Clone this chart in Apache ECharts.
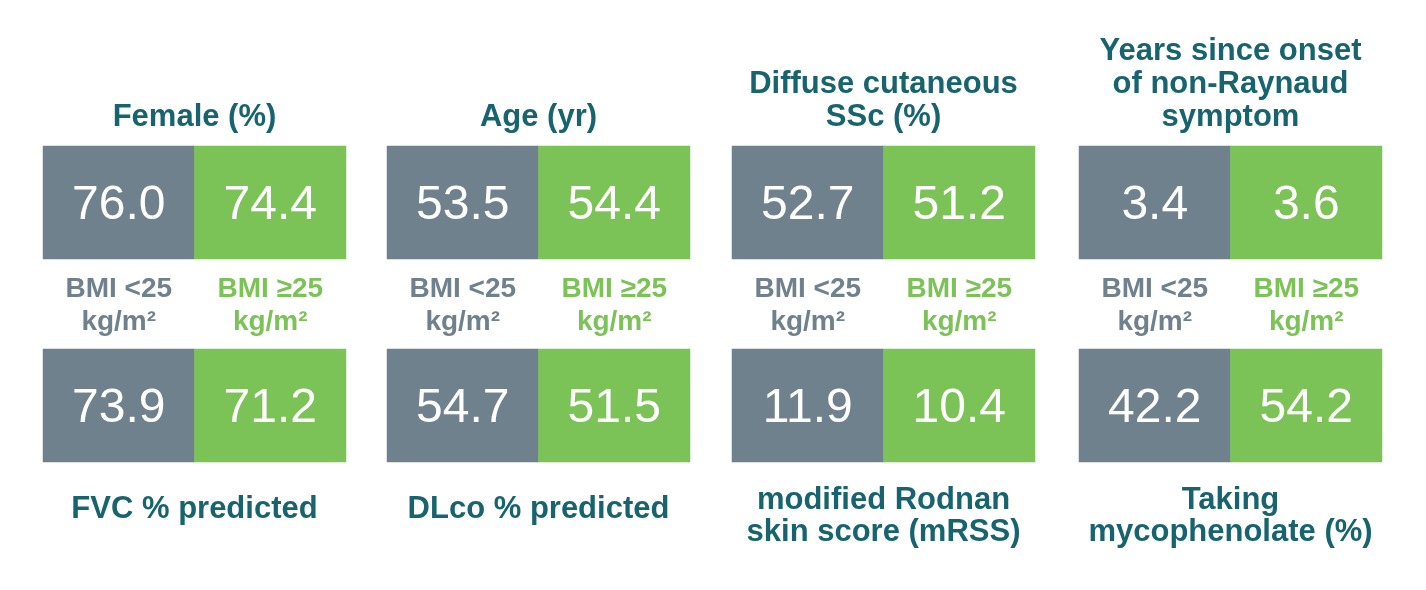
<!DOCTYPE html>
<html>
<head>
<meta charset="utf-8">
<script src="https://cdn.jsdelivr.net/npm/echarts@6/dist/echarts.min.js"></script>
<style>
  html, body { margin: 0; padding: 0; background: #fff; }
  #main { width: 1426px; height: 590px; }
</style>
</head>
<body>
<div id="main"></div>
<script>
// groups (columns inside each panel)
const groups = ['BMI <25\nkg/m²', 'BMI ≥25\nkg/m²']
// panel titles, top row and bottom row
const topTitles = ['Female (%)', 'Age (yr)', 'Diffuse cutaneous\nSSc (%)', 'Years since onset\nof non-Raynaud\nsymptom']
const bottomTitles = ['FVC % predicted', 'DLco % predicted', 'modified Rodnan\nskin score (mRSS)', 'Taking\nmycophenolate (%)']
// values: [BMI <25, BMI >=25]
const topValues = [[76.0, 74.4], [53.5, 54.4], [52.7, 51.2], [3.4, 3.6]]
const bottomValues = [[73.9, 71.2], [54.7, 51.5], [11.9, 10.4], [42.2, 54.2]]

const GREY = '#6f818d'
const GREEN = '#7bc257'
const TEAL = '#17646f'
const FONT = '"Liberation Sans", Arial, Helvetica, sans-serif'

const colLeft = [43, 387, 732, 1079]
const panelW = 303
const rowTop = [146, 349]
const panelH = 113

const grid = []
const xAxis = []
const yAxis = []
const series = []
const title = []

const rows = [topValues, bottomValues]
rows.forEach((vals, r) => {
  vals.forEach((pair, c) => {
    const i = grid.length
    grid.push({ left: colLeft[c], top: rowTop[r], width: panelW, height: panelH })
    xAxis.push({
      type: 'category',
      gridIndex: i,
      data: groups,
      position: 'top',
      axisLine: { show: false },
      axisTick: { show: false },
      splitLine: { show: false },
      axisLabel: {
        show: r === 1,
        interval: 0,
        margin: 10,
        fontFamily: FONT,
        fontWeight: 'bold',
        fontSize: 28,
        lineHeight: 33,
        color: (v, idx) => (idx === 0 ? GREY : GREEN)
      }
    })
    yAxis.push({
      type: 'category',
      gridIndex: i,
      data: [''],
      show: false
    })
    series.push({
      type: 'heatmap',
      xAxisIndex: i,
      yAxisIndex: i,
      data: pair.map((v, k) => ({
        value: [k, 0, v],
        itemStyle: { color: k === 0 ? GREY : GREEN }
      })),
      label: {
        show: true,
        offset: [0, 3],
        formatter: p => p.value[2].toFixed(1),
        color: '#fff',
        fontFamily: FONT,
        fontSize: 48
      },
      emphasis: { disabled: true }
    })
  })
})

const titleStyle = {
  fontFamily: FONT,
  fontWeight: 'bold',
  fontSize: 31,
  lineHeight: 33,
  color: TEAL
}
topTitles.forEach((t, c) => {
  const n = t.split('\n').length
  title.push({
    text: t,
    left: colLeft[c] + panelW / 2,
    top: 117 + 16.5 - 33 * n,
    textAlign: 'center',
    padding: 0,
    textStyle: Object.assign({ align: 'center' }, titleStyle)
  })
})
bottomTitles.forEach((t, c) => {
  const n = t.split('\n').length
  title.push({
    text: t,
    left: colLeft[c] + panelW / 2,
    top: n === 1 ? 493 : 484,
    textAlign: 'center',
    padding: 0,
    textStyle: Object.assign({ align: 'center' }, titleStyle, { lineHeight: 32 })
  })
})

const option = {
  animation: false,
  title: title,
  grid: grid,
  xAxis: xAxis,
  yAxis: yAxis,
  series: series
}

const chart = echarts.init(document.getElementById('main'))
chart.setOption(option)
</script>
</body>
</html>
